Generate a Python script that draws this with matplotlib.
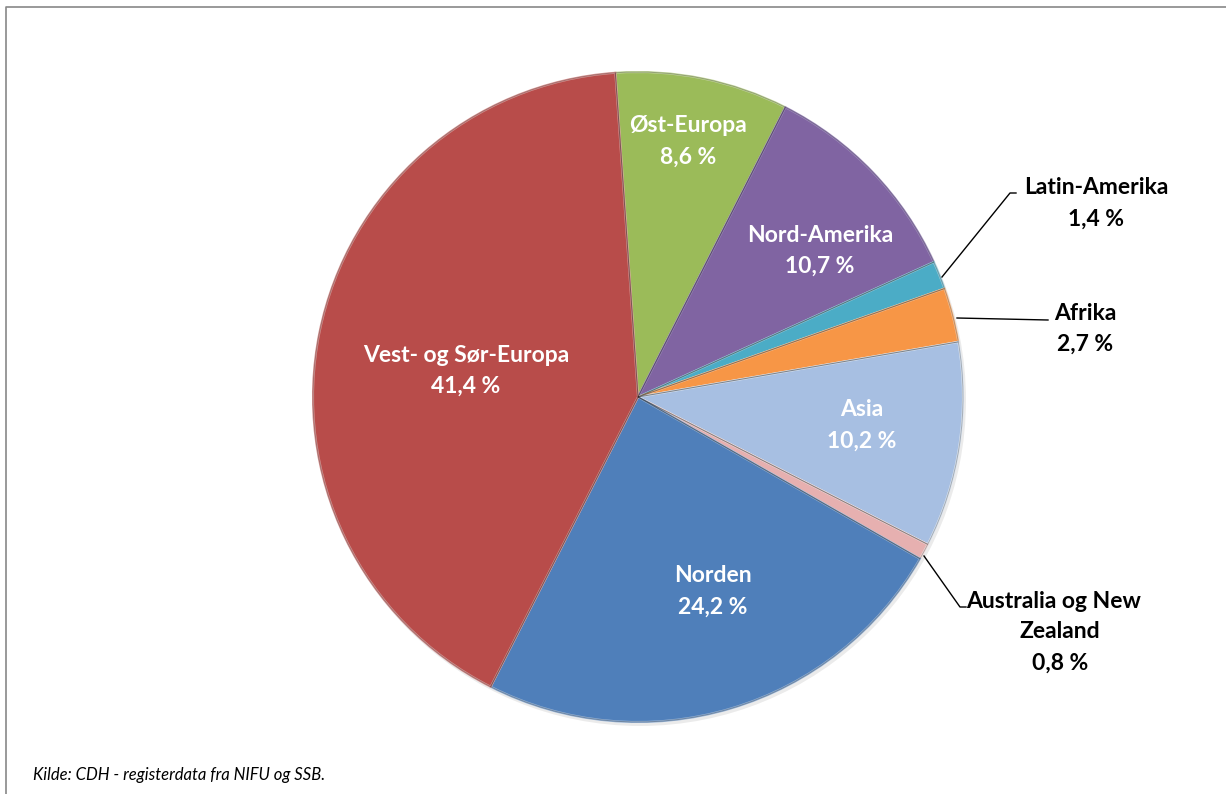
import matplotlib
matplotlib.use("Agg")
import matplotlib.pyplot as plt
from matplotlib.lines import Line2D
from matplotlib.patches import Wedge

# ---- data ----
regions = ["Øst-Europa", "Nord-Amerika", "Latin-Amerika", "Afrika", "Asia",
           "Australia og New\nZealand", "Norden", "Vest- og Sør-Europa"]
shares = [8.6, 10.7, 1.4, 2.7, 10.2, 0.8, 24.2, 41.4]
value_labels = ["8,6 %", "10,7 %", "1,4 %", "2,7 %", "10,2 %", "0,8 %", "24,2 %", "41,4 %"]
source_text = "Kilde: CDH - registerdata fra NIFU og SSB."

# ---- styles ----
colors = ["#9BBB59", "#8064A2", "#4BACC6", "#F79646", "#A7BFE2",
          "#E6B0B0", "#4F7FBA", "#B84C4A"]
edges = ["#C3D69B", "#A08CBF", "#93CDDD", "#FAC090", "#DCE6F2",
         "#F2DCDB", "#95B3D7", "#D99694"]

W, H = 1226, 794
fig = plt.figure(figsize=(W / 100, H / 100), dpi=100)
ax = fig.add_axes([0, 0, 1, 1])

cx, cy, R = 638, H - 397, 325

shadow = plt.Circle((cx + 2, cy - 3), R + 1, color="#000000", alpha=0.08, zorder=0, lw=0)
ax.add_patch(shadow)

wedges, _ = ax.pie(shares, colors=colors, startangle=94, counterclock=False,
                   center=(cx, cy), radius=R, frame=True,
                   wedgeprops=dict(linewidth=1.5))
for w, ec in zip(wedges, edges):
    w.set_edgecolor(ec)
    w.set_zorder(2)
for w in wedges:
    ow = Wedge(w.center, w.r, w.theta1, w.theta2, fill=False,
               edgecolor="#00000040", linewidth=0.7, zorder=3)
    ax.add_patch(ow)

ax.set_xlim(0, W)
ax.set_ylim(0, H)
ax.set_aspect("equal")
ax.axis("off")

font = ["Lato", "DejaVu Sans"]
fs = 16.5

inside = {0: (688, 126), 1: (820, 235), 4: (862, 410), 6: (713, 576), 7: (466, 355)}
for i, (px, py) in inside.items():
    ax.text(px, H - py, regions[i], ha="center", va="center", color="white",
            fontsize=fs, fontweight="bold", family=font, zorder=5)
    ax.text(px, H - py - 31, value_labels[i], ha="center", va="center", color="white",
            fontsize=fs, fontweight="bold", family=font, zorder=5)

outside = {
    2: dict(text=(1096, 188), off=0, line=[(942, 277), (1010, 193), (1016, 193)]),
    3: dict(text=(1085, 313), off=0, line=[(957, 318), (1048, 320)]),
    5: dict(text=(1054, 601), off=6, line=[(924, 556), (960, 607), (966, 607)]),
}
for i, d in outside.items():
    px, py = d["text"]
    lines = regions[i].split("\n")
    for k, ln in enumerate(lines):
        ax.text(px + (d["off"] if k > 0 else 0), H - py - 31 * k, ln, ha="center", va="center",
                color="black", fontsize=fs, fontweight="bold", family=font, zorder=5)
    off = d["off"] if len(lines) > 1 else 0
    ax.text(px + off, H - py - 31 * len(lines), value_labels[i], ha="center", va="center",
            color="black", fontsize=fs, fontweight="bold", family=font, zorder=5)
    xs = [p[0] for p in d["line"]]
    ys = [H - p[1] for p in d["line"]]
    ax.add_line(Line2D(xs, ys, color="black", lw=1.0, zorder=4))

ax.text(33, H - 775, source_text, ha="left", va="center", fontsize=12,
        style="italic", family=font, color="black")

ax.add_line(Line2D([6, 6, W], [0, H - 7, H - 7], color="#888888", lw=1.2, zorder=6))

fig.savefig("out.png", dpi=100)
